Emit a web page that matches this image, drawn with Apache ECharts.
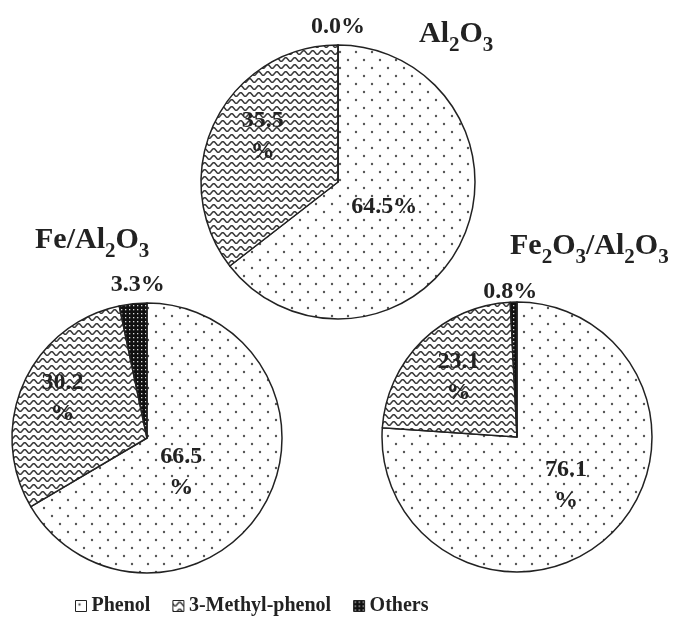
<!DOCTYPE html>
<html><head><meta charset="utf-8">
<script src="https://cdn.jsdelivr.net/npm/echarts@6/dist/echarts.min.js"></script>
<style>html,body{margin:0;padding:0;background:#fff}#c{width:674px;height:630px}</style>
</head><body><div id="c"></div>
<script>
// ---- data ----
const categories = ['Phenol', '3-Methyl-phenol', 'Others'];
const valuesAl2O3 = [64.5, 35.5, 0.0];
const valuesFeAl2O3 = [66.5, 30.2, 3.3];
const valuesFe2O3Al2O3 = [76.1, 23.1, 0.8];
const titleAl2O3 = '{b|Al}{s|2}{b|O}{s|3}';
const titleFeAl2O3 = '{b|Fe/Al}{s|2}{b|O}{s|3}';
const titleFe2O3Al2O3 = '{b|Fe}{s|2}{b|O}{s|3}{b|/Al}{s|2}{b|O}{s|3}';

// ---- styles ----
function makeCanvas(w, h, draw) {
  const c = document.createElement('canvas'); c.width = w; c.height = h;
  draw(c.getContext('2d')); return c;
}
const dotPat = makeCanvas(16, 16, g => {
  g.fillStyle = '#fff'; g.fillRect(0, 0, 16, 16);
  g.fillStyle = '#555';
  g.beginPath(); g.arc(4, 4, 1.2, 0, Math.PI * 2); g.fill();
  g.beginPath(); g.arc(12, 12, 1.2, 0, Math.PI * 2); g.fill();
});
const wavePat = makeCanvas(9, 7, g => {
  g.fillStyle = '#fff'; g.fillRect(0, 0, 9, 7);
  g.strokeStyle = '#3a3a3a'; g.lineWidth = 1.5;
  g.beginPath();
  for (let x = -1; x <= 10; x += 0.25) {
    const y = 3.5 + 1.8 * Math.sin(2 * Math.PI * x / 9);
    if (x === -1) g.moveTo(x, y); else g.lineTo(x, y);
  }
  g.stroke();
});
const darkPat = makeCanvas(4, 4, g => {
  g.fillStyle = '#111'; g.fillRect(0, 0, 4, 4);
  g.fillStyle = '#ddd'; g.fillRect(1, 1, 1.3, 1.3);
});
const fills = [
  { image: dotPat, repeat: 'repeat' },
  { image: wavePat, repeat: 'repeat' },
  { image: darkPat, repeat: 'repeat' }
];

const pieGeom = [
  { center: [338, 182], radius: 137 },
  { center: [147, 438], radius: 135 },
  { center: [517, 437], radius: 135 }
];
// label offsets relative to the 'inside' label position, and whether '%' wraps
const labelOffsets = [
  [[-18, -7], [-11, -14], [0, -84]],
  [[-27, -1], [-20, -11], [-2, -83]],
  [[1, -3], [-9, -9], [-5, -75]]
];
const labelWrap = [
  [false, true, false],
  [true, true, false],
  [true, true, false]
];

const labelFont = { fontFamily: 'Liberation Serif', fontWeight: 'bold', fontSize: 24, color: '#222', lineHeight: 31 };
const titleRich = {
  b: { fontFamily: 'Liberation Serif', fontWeight: 'bold', fontSize: 30, color: '#222', verticalAlign: 'top', lineHeight: 40 },
  s: { fontFamily: 'Liberation Serif', fontWeight: 'bold', fontSize: 21, color: '#222', verticalAlign: 'top', lineHeight: 40, padding: [16, 0, 0, 0] }
};

function buildSeries(values, idx) {
  return {
    type: 'pie',
    center: pieGeom[idx].center,
    radius: pieGeom[idx].radius,
    startAngle: 90,
    clockwise: true,
    silent: true,
    emphasis: { disabled: true },
    labelLine: { show: false },
    itemStyle: { borderColor: '#222', borderWidth: 1.5 },
    data: values.map((v, i) => ({
      name: categories[i],
      value: v,
      itemStyle: { color: fills[i] },
      label: {
        show: true,
        position: 'inside',
        offset: labelOffsets[idx][i],
        formatter: () => v.toFixed(1) + (labelWrap[idx][i] ? '\n%' : '%'),
        ...labelFont
      }
    }))
  };
}

const chart = echarts.init(document.getElementById('c'), null, { renderer: 'canvas' });
chart.setOption({
  backgroundColor: '#fff',
  animation: false,
  title: [
    { text: titleAl2O3, left: 414, top: 14, textStyle: { rich: titleRich } },
    { text: titleFeAl2O3, left: 30, top: 220, textStyle: { rich: titleRich } },
    { text: titleFe2O3Al2O3, left: 505, top: 226, textStyle: { rich: titleRich } }
  ],
  legend: {
    data: categories,
    left: 70,
    top: 591,
    icon: 'rect',
    itemWidth: 11,
    itemHeight: 11,
    itemGap: 22,
    itemStyle: { borderColor: '#222', borderWidth: 1 },
    textStyle: { fontFamily: 'Liberation Serif', fontWeight: 'bold', fontSize: 20, color: '#222' }
  },
  series: [
    buildSeries(valuesAl2O3, 0),
    buildSeries(valuesFeAl2O3, 1),
    buildSeries(valuesFe2O3Al2O3, 2)
  ]
});
</script>
</body></html>
